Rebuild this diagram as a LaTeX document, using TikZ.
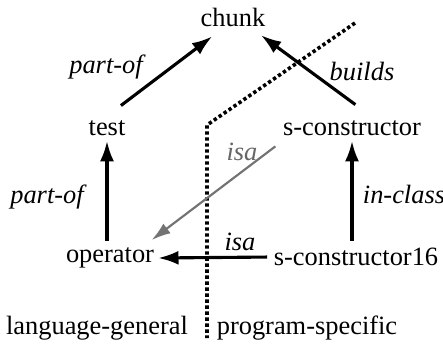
\documentclass[tikz,border=0pt]{standalone}
\usepackage{fontspec}
\newfontfamily\diagfont{Liberation Serif}
\usetikzlibrary{arrows.meta}
\tikzset{concept/.style={inner sep=1pt, font=\diagfont\fontsize{11}{13}\selectfont}}
\tikzset{rel/.style={inner sep=1pt, font=\diagfont\fontsize{11}{13}\selectfont\itshape}}
\tikzset{link/.style={-{Latex[length=8.5pt,width=5.8pt]}, line width=1.3pt}}
\tikzset{weaklink/.style={-{Latex[length=8pt,width=5pt]}, draw=black!55, fill=black!55, line width=0.9pt}}
\tikzset{divide/.style={line width=1.5pt, dash pattern=on 1.4pt off 1.1pt}}

\begin{document}
\begin{tikzpicture}[x=0.4165pt, y=-0.4165pt]
        \useasboundingbox (0,0) rectangle (443,345);
        % concepts
        \node[concept] (chunk) at (233,17) {chunk};
        \node[concept] (test) at (107,128) {test};
        \node[concept] (sconstr) at (352,128) {s-constructor};
        \node[concept] (operator) at (110,258) {operator};
        \node[concept] (sconstr16) at (356,257) {s-constructor16};
        \node[concept] (general) at (97,328) {language-general};
        \node[concept] (specific) at (307,328) {program-specific};
        % boundary between the two sides
        \coordinate (cut top) at (355,23);
        \coordinate (cut bend) at (207,125);
        \coordinate (cut bottom) at (207,338);
        \draw[divide] (cut top) -- (cut bend) -- (cut bottom);
        % relations
        \draw[link] ([shift={(5.8pt,5pt)}]test.north) -- ([shift={(6pt,-3pt)}]chunk.south west);
        \draw[link] ([shift={(1.4pt,5.4pt)}]sconstr.north) -- ([shift={(-3pt,-2.5pt)}]chunk.south east);
        \draw[link, shorten <=1.7pt, shorten >=1pt] (operator.north -| test) -- (test.south);
        \draw[link, shorten <=1.7pt, shorten >=1pt] (sconstr16.north -| sconstr) -- (sconstr.south);
        \draw[weaklink] ([shift={(-2pt,-3.3pt)}]sconstr.south west) -- ([shift={(-2.2pt,2pt)}]operator.north east);
        \draw[link, shorten <=1.6pt, shorten >=0.5pt] (sconstr16.west) -- (operator.east);
        % relation labels
        \node[rel] (l1) at (106,67) {part-of};
        \node[rel] (l2) at (362,71) {builds};
        \node[rel] (l3) at (47,197) {part-of};
        \node[rel] (l4) at (404,194) {in-class};
        \node[rel, text=black!60] (l5) at (242,152) {isa};
        \node[rel] (l6) at (240,242) {isa};
\end{tikzpicture}
\end{document}
